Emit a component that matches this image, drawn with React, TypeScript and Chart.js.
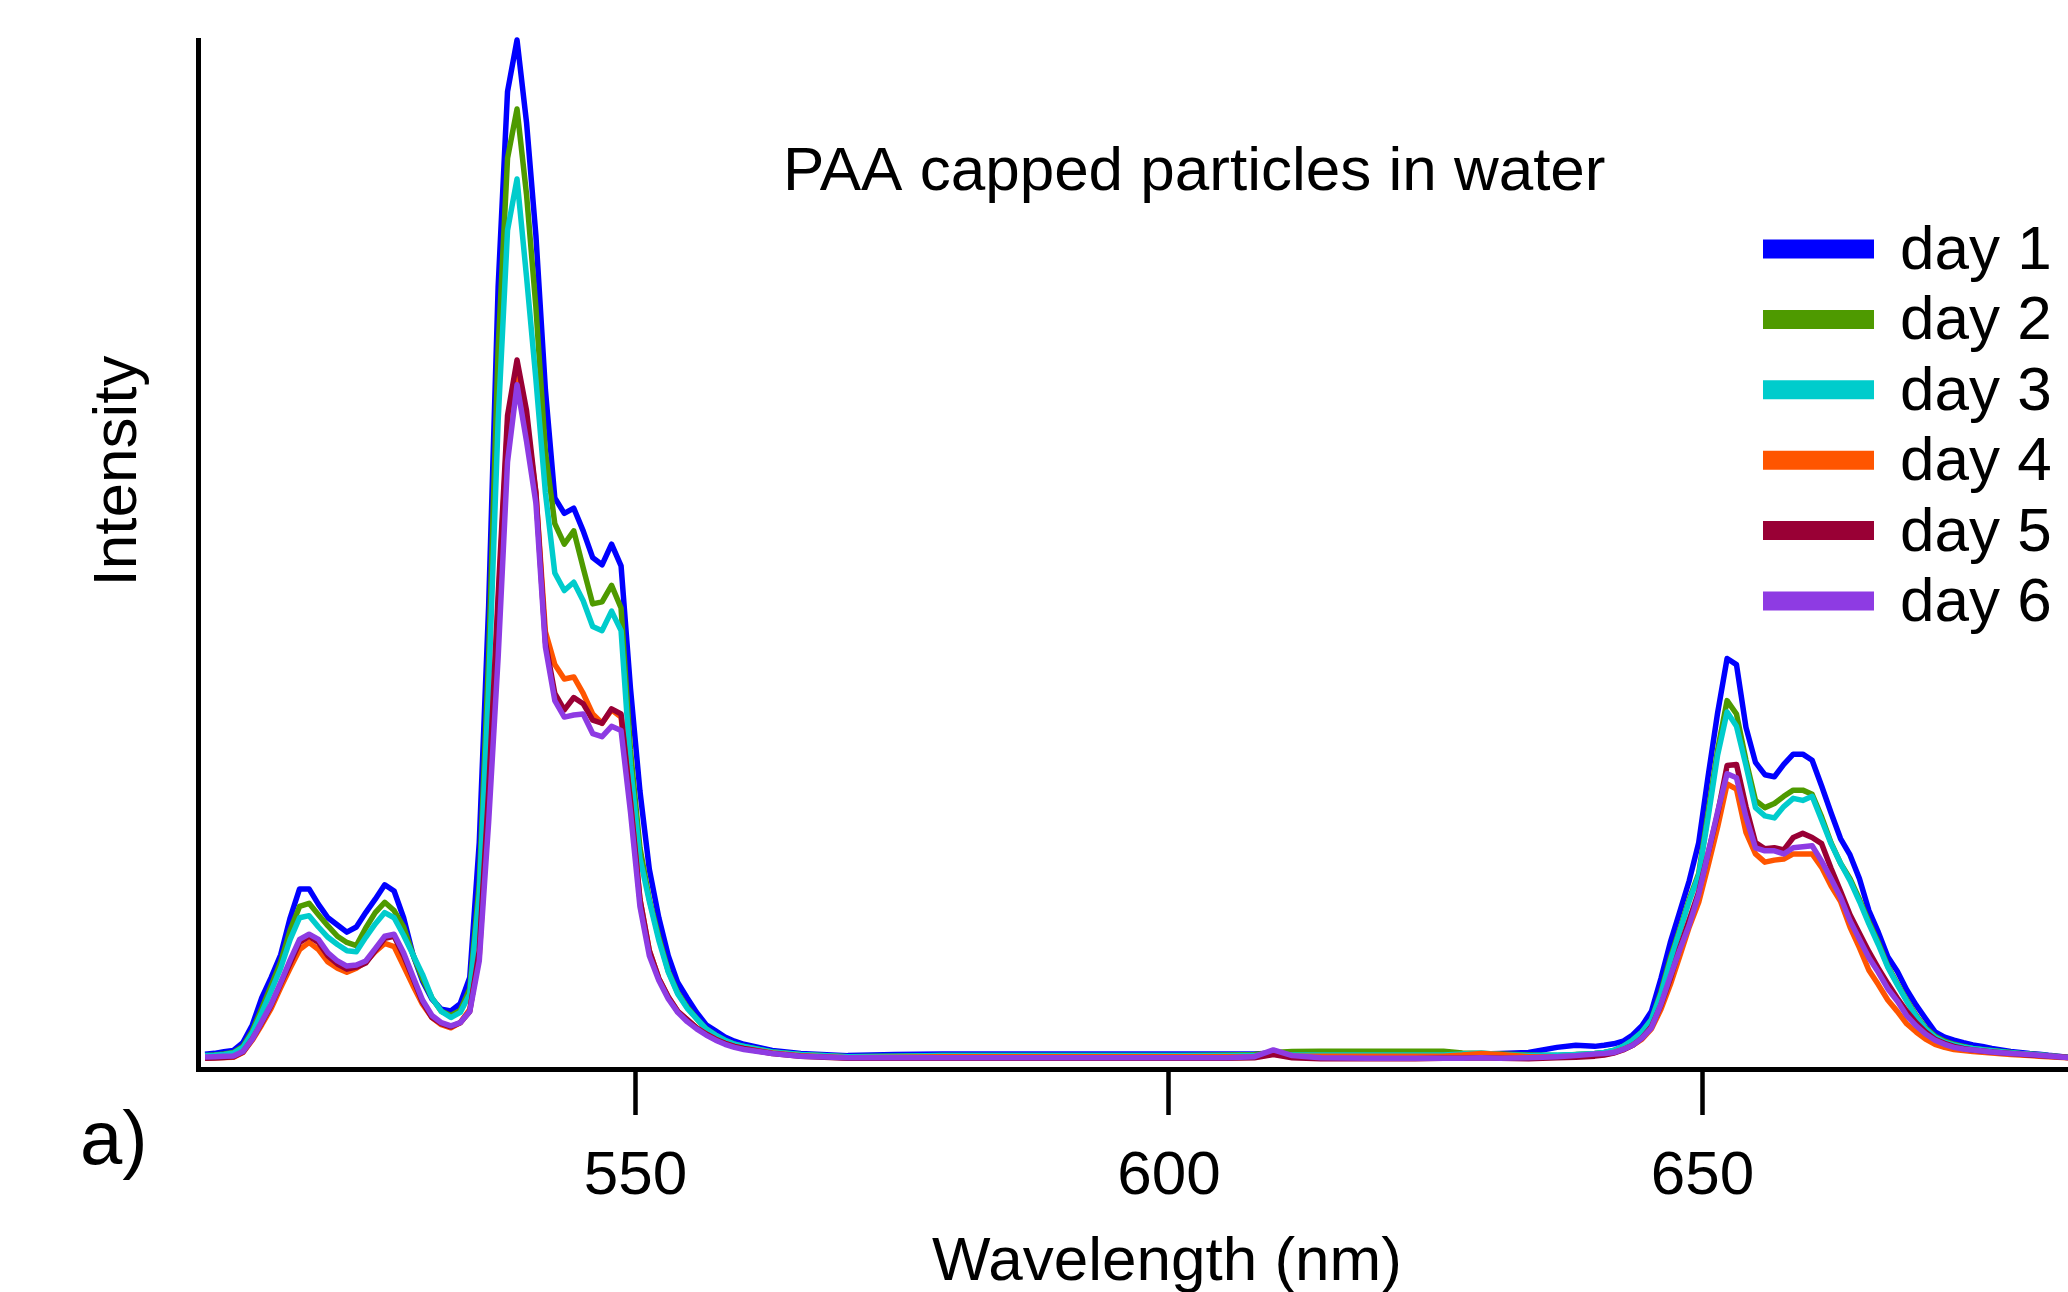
import { useEffect, useRef } from "react";
import { Chart, registerables } from "chart.js";

Chart.register(...registerables);

const FONT = "'Liberation Sans', Arial, Helvetica, sans-serif";

// Wavelength sampling points (nm)
const wavelengths = [
  509.66, 510.55, 511.43, 512.32, 513.21, 514.09, 514.98, 515.86, 516.75, 517.64,
  518.52, 519.41, 520.29, 521.18, 522.07, 522.95, 523.84, 524.72, 525.61, 526.5,
  527.38, 528.27, 529.15, 530.04, 530.93, 531.81, 532.7, 533.58, 534.47, 535.36,
  536.24, 537.13, 538.01, 538.9, 539.79, 540.67, 541.56, 542.44, 543.33, 544.22,
  545.1, 545.99, 546.87, 547.76, 548.65, 549.53, 550.42, 551.3, 552.19, 553.08,
  553.96, 554.85, 555.73, 556.62, 557.51, 558.39, 559.28, 560.16, 562.82, 565.48,
  569.91, 574.34, 578.77, 583.2, 587.63, 592.06, 596.49, 600.92, 605.35, 608.01,
  609.78, 611.55, 614.21, 618.64, 623.07, 625.73, 627.5, 629.27, 631.04, 633.7,
  636.36, 638.13, 639.9, 640.79, 641.68, 642.56, 643.45, 644.33, 645.22, 646.11,
  646.99, 647.88, 648.76, 649.65, 650.54, 651.42, 652.31, 653.19, 654.08, 654.97,
  655.85, 656.74, 657.62, 658.51, 659.4, 660.28, 661.17, 662.05, 662.94, 663.83,
  664.71, 665.6, 666.48, 667.37, 668.26, 669.14, 670.03, 670.91, 671.8, 672.69,
  673.57, 674.46, 675.34, 676.23, 677.12, 678.0, 678.89, 679.77, 680.66, 681.55,
  682.43, 683.32, 684.2, 686.86, 690.41,
];

const day1 = [
  1.43, 1.52, 1.68, 1.81, 2.56, 4.28, 6.93, 8.9, 11.1, 14.7,
  17.5, 17.5, 16.0, 14.7, 14.0, 13.3, 13.8, 15.2, 16.5, 17.9,
  17.3, 14.7, 11.1, 8.56, 6.78, 5.8, 5.64, 6.36, 8.9, 22,
  45, 76, 95, 100, 92, 81, 66, 55.5, 54, 54.5,
  52.3, 49.7, 49.0, 51.0, 48.9, 37, 27, 19.4, 14.7, 11.0,
  8.4, 6.9, 5.5, 4.3, 3.7, 3.1, 2.7, 2.4, 1.8, 1.5,
  1.3, 1.4, 1.45, 1.45, 1.45, 1.45, 1.45, 1.45, 1.45, 1.45,
  1.55, 1.45, 1.45, 1.45, 1.45, 1.45, 1.4, 1.45, 1.5, 1.6,
  2.1, 2.3, 2.2, 2.3, 2.45, 2.7, 3.3, 4.2, 5.6, 8.8,
  12.3, 15.3, 18.3, 22.0, 28.5, 34.6, 39.9, 39.3, 33.2, 29.8,
  28.6, 28.4, 29.6, 30.6, 30.6, 30.0, 27.5, 24.9, 22.4, 20.8,
  18.5, 15.4, 13.3, 10.9, 9.5, 7.7, 6.2, 4.9, 3.6, 3.1,
  2.8, 2.55, 2.33, 2.2, 2.0, 1.85, 1.7, 1.6, 1.5, 1.43,
  1.33, 1.25, 1.15, 1.05, 0.95,
];

const day2 = [
  1.3, 1.35, 1.45, 1.6, 2.2, 3.7, 5.9, 8.1, 10.4, 13.5,
  15.8, 16.1, 15.0, 13.9, 12.9, 12.3, 12.0, 13.7, 15.2, 16.2,
  15.4, 13.8, 11.1, 8.8, 6.9, 5.6, 5.2, 5.7, 7.8, 18,
  40, 70, 88.5, 93.3, 85, 74, 60, 53, 51, 52.3,
  48.7, 45.2, 45.4, 47.0, 44.8, 31, 21.5, 16.5, 12.8, 9.5,
  7.4, 6.0, 4.9, 3.9, 3.3, 2.8, 2.4, 2.2, 1.65, 1.4,
  1.2, 1.25, 1.3, 1.3, 1.3, 1.3, 1.3, 1.3, 1.35, 1.4,
  1.6, 1.7, 1.72, 1.72, 1.72, 1.72, 1.55, 1.5, 1.45, 1.35,
  1.3, 1.4, 1.5, 1.6, 1.8, 2.2, 2.8, 3.6, 4.8, 7.5,
  10.8, 13.6, 16.5, 19.0, 25.0, 31.0, 35.8, 34.5, 30.0, 26.1,
  25.4, 25.8, 26.5, 27.1, 27.1, 26.7, 24.5, 22.0, 20.0, 18.5,
  16.5, 14.3, 12.3, 10.0, 8.3, 6.7, 5.2, 4.0, 3.2, 2.7,
  2.4, 2.2, 2.0, 1.9, 1.8, 1.7, 1.6, 1.5, 1.45, 1.38,
  1.3, 1.22, 1.15, 1.05, 0.95,
];

const day3 = [
  1.3, 1.33, 1.42, 1.55, 2.1, 3.5, 5.5, 7.6, 9.8, 12.6,
  14.7, 14.9, 13.8, 12.8, 12.1, 11.5, 11.4, 12.8, 14.1, 15.2,
  14.7, 13.0, 11.1, 9.2, 6.9, 5.6, 5.0, 5.5, 7.3, 17,
  37, 63, 81.5, 86.5, 77, 67, 56, 48.2, 46.5, 47.3,
  45.5, 43.0, 42.6, 44.5, 42.6, 29.5, 20.5, 16.3, 12.5, 9.4,
  7.3, 5.9, 4.9, 3.9, 3.3, 2.8, 2.4, 2.2, 1.65, 1.4,
  1.2, 1.25, 1.3, 1.3, 1.3, 1.3, 1.3, 1.3, 1.3, 1.3,
  1.55, 1.35, 1.35, 1.35, 1.35, 1.35, 1.45, 1.55, 1.4, 1.3,
  1.35, 1.4, 1.5, 1.6, 1.8, 2.2, 2.8, 3.6, 4.8, 7.3,
  10.5, 13.4, 16.3, 18.8, 24.5, 30.5, 34.7, 33.3, 29.5, 25.4,
  24.6, 24.4, 25.5, 26.3, 26.1, 26.5, 24.2, 21.9, 20.0, 18.3,
  16.3, 14.1, 12.1, 9.9, 8.2, 6.6, 5.1, 3.9, 3.1, 2.6,
  2.35, 2.15, 2.0, 1.88, 1.78, 1.68, 1.58, 1.5, 1.43, 1.36,
  1.28, 1.2, 1.13, 1.03, 0.93,
];

const day4 = [
  1.1, 1.1, 1.12, 1.15, 1.6, 2.8, 4.3, 5.9, 7.9, 9.8,
  11.6, 12.3, 11.6, 10.4, 9.8, 9.4, 9.8, 10.4, 11.4, 12.2,
  11.9, 10.0, 8.1, 6.3, 5.0, 4.3, 4.0, 4.5, 5.8, 11,
  26, 45, 62.5, 67.8, 63, 56, 42.5, 39.3, 37.9, 38.1,
  36.5, 34.5, 33.6, 34.9, 34.2, 26, 16.5, 11.5, 8.8, 7.0,
  5.6, 4.8, 4.0, 3.4, 2.9, 2.5, 2.2, 2.0, 1.55, 1.3,
  1.1, 1.15, 1.2, 1.2, 1.2, 1.2, 1.2, 1.2, 1.2, 1.2,
  1.45, 1.25, 1.25, 1.25, 1.25, 1.25, 1.35, 1.5, 1.4, 1.2,
  1.2, 1.25, 1.35, 1.4, 1.6, 1.9, 2.3, 2.9, 3.9, 5.8,
  8.2, 11.0, 13.8, 16.2, 19.8, 23.5, 27.7, 27.2, 23.0, 20.9,
  20.1, 20.3, 20.4, 20.9, 20.9, 20.9, 19.6, 17.8, 16.3, 13.8,
  11.8, 9.6, 8.2, 6.7, 5.6, 4.4, 3.6, 2.9, 2.4, 2.1,
  1.9, 1.8, 1.7, 1.62, 1.55, 1.48, 1.42, 1.36, 1.3, 1.25,
  1.2, 1.15, 1.1, 1.0, 0.9,
];

const day5 = [
  1.05, 1.08, 1.12, 1.18, 1.65, 2.9, 4.5, 6.2, 8.3, 10.3,
  12.3, 12.9, 12.3, 11.0, 10.2, 9.7, 9.9, 10.3, 11.5, 12.7,
  12.9, 11.0, 8.8, 6.5, 5.0, 4.4, 4.1, 4.5, 5.6, 11.5,
  27, 46, 63.5, 68.9, 64, 56, 41.5, 36.5, 34.9, 36.1,
  35.5, 33.9, 33.6, 35.0, 34.5, 26, 16.5, 11.5, 8.8, 7.0,
  5.6, 4.8, 4.0, 3.4, 2.9, 2.5, 2.2, 2.0, 1.5, 1.25,
  1.05, 1.05, 1.05, 1.05, 1.05, 1.05, 1.05, 1.05, 1.05, 1.1,
  1.4, 1.1, 1.0, 1.0, 1.0, 1.05, 1.05, 1.1, 1.05, 1.0,
  1.1, 1.15, 1.25, 1.35, 1.55, 1.85, 2.3, 3.0, 4.1, 6.2,
  8.8, 11.8, 14.5, 17.2, 21.0, 24.8, 29.5, 29.6, 25.5, 22.0,
  21.4, 21.5, 21.3, 22.5, 22.9, 22.5, 21.9, 19.5, 17.3, 15.0,
  13.2, 11.4, 9.8, 8.3, 6.9, 5.6, 4.5, 3.6, 2.9, 2.5,
  2.2, 2.0, 1.85, 1.75, 1.65, 1.57, 1.5, 1.43, 1.37, 1.3,
  1.24, 1.18, 1.12, 1.02, 0.92,
];

const day6 = [
  1.17, 1.2, 1.23, 1.26, 1.7, 2.9, 4.6, 6.3, 8.4, 10.6,
  12.6, 13.1, 12.6, 11.3, 10.5, 10.0, 10.1, 10.5, 11.7, 12.9,
  13.1, 11.3, 9.0, 6.7, 5.2, 4.5, 4.2, 4.5, 5.6, 10.5,
  24, 40, 59, 66.5, 61, 55, 41, 35.8, 34.2, 34.4,
  34.5, 32.6, 32.3, 33.3, 32.9, 25, 15.8, 11.0, 8.6, 6.8,
  5.5, 4.6, 3.9, 3.3, 2.8, 2.4, 2.1, 1.9, 1.5, 1.25,
  1.1, 1.1, 1.1, 1.1, 1.1, 1.1, 1.1, 1.1, 1.1, 1.2,
  1.85, 1.3, 1.1, 1.05, 1.05, 1.05, 1.05, 1.1, 1.05, 1.1,
  1.2, 1.3, 1.45, 1.5, 1.6, 1.9, 2.3, 3.0, 4.0, 6.3,
  9.0, 11.6, 14.0, 17.0, 21.0, 25.0, 28.7, 28.3, 24.5, 21.5,
  21.2, 21.2, 20.9, 21.5, 21.6, 21.7, 20.2, 18.5, 16.7, 14.4,
  12.6, 10.8, 9.4, 7.8, 6.6, 5.2, 4.2, 3.4, 2.8, 2.4,
  2.1, 1.95, 1.85, 1.75, 1.65, 1.58, 1.5, 1.45, 1.4, 1.33,
  1.27, 1.2, 1.12, 1.02, 0.92,
];

const seriesLabels = ["day 1", "day 2", "day 3", "day 4", "day 5", "day 6"];
const seriesValues = [day1, day2, day3, day4, day5, day6];
const seriesColors = ["#0000FF", "#4E9A00", "#00CCCC", "#FF5500", "#990035", "#8E3BE3"];

const xTicks = [550, 600, 650];
const xMin = 509;
const xMax = 684.26;
const yMin = 0;
const yMax = 100;

const titleText = "PAA capped particles in water";
const xTitle = "Wavelength (nm)";
const yTitle = "Intensity";
const panelLabel = "a)";

const textPlugin = {
  id: "textPlugin",
  afterDraw(chart: any) {
    const ctx = chart.ctx as CanvasRenderingContext2D;
    ctx.save();
    ctx.fillStyle = "#000";
    ctx.textBaseline = "alphabetic";

    // inner title
    ctx.font = `62px ${FONT}`;
    ctx.textAlign = "left";
    ctx.fillText(titleText, 783, 190);

    // legend
    chart.data.datasets.forEach((ds: any, i: number) => {
      const yc = 249 + i * 70.4;
      ctx.strokeStyle = ds.borderColor;
      ctx.lineWidth = 19;
      ctx.lineCap = "butt";
      ctx.beginPath();
      ctx.moveTo(1763, yc);
      ctx.lineTo(1874, yc);
      ctx.stroke();
      ctx.fillStyle = "#000";
      ctx.font = `62px ${FONT}`;
      ctx.textAlign = "left";
      ctx.fillText(ds.label, 1900, 269 + i * 70.4);
    });

    // x axis title
    ctx.font = `62px ${FONT}`;
    ctx.textAlign = "center";
    ctx.fillText(xTitle, 1167, 1280);

    // y axis title
    ctx.save();
    ctx.translate(136, 471);
    ctx.rotate(-Math.PI / 2);
    ctx.textAlign = "center";
    ctx.fillText(yTitle, 0, 0);
    ctx.restore();

    // panel label
    ctx.font = `76px ${FONT}`;
    ctx.textAlign = "left";
    ctx.fillText(panelLabel, 80, 1164);

    ctx.restore();
  },
};

export default function App() {
  const canvasRef = useRef<HTMLCanvasElement | null>(null);

  useEffect(() => {
    const canvas = canvasRef.current;
    if (!canvas) return;
    const chart = new Chart(canvas, {
      type: "line",
      data: {
        datasets: seriesLabels.map((label, i) => ({
          label,
          data: wavelengths.map((w, j) => ({ x: w, y: seriesValues[i][j] })),
          borderColor: seriesColors[i],
          backgroundColor: seriesColors[i],
          borderWidth: 5.5,
          pointRadius: 0,
          tension: 0,
          fill: false,
          borderJoinStyle: "round",
          order: seriesLabels.length - i,
          clip: false,
        })),
      },
      options: {
        responsive: false,
        maintainAspectRatio: false,
        animation: false,
        devicePixelRatio: 1,
        layout: { padding: { top: 40, left: 198, right: 0, bottom: 52.6 } },
        plugins: {
          legend: { display: false },
          tooltip: { enabled: false },
          title: { display: false },
        },
        scales: {
          x: {
            type: "linear",
            min: xMin,
            max: xMax,
            afterBuildTicks: (axis: any) => {
              axis.ticks = xTicks.map((v) => ({ value: v }));
            },
            grid: {
              display: true,
              drawOnChartArea: false,
              drawTicks: true,
              tickLength: 46,
              tickWidth: 4.5,
              tickColor: "#000",
            },
            border: { display: true, color: "#000", width: 5 },
            ticks: {
              color: "#000",
              font: { family: FONT, size: 62 },
              padding: 25,
              maxRotation: 0,
              autoSkip: false,
              callback: (v: any) => String(v),
            },
          },
          y: {
            type: "linear",
            min: yMin,
            max: yMax,
            grid: { display: false, drawTicks: false },
            border: { display: true, color: "#000", width: 5 },
            ticks: { display: false },
          },
        },
      },
      plugins: [textPlugin],
    } as any);
    return () => chart.destroy();
  }, []);

  return (
    <div
      style={{
        position: "fixed",
        left: 0,
        top: 0,
        width: "2068px",
        height: "1292px",
        overflow: "hidden",
        background: "#fff",
      }}
    >
      <canvas ref={canvasRef} width={2068} height={1292} style={{ display: "block" }} />
    </div>
  );
}
